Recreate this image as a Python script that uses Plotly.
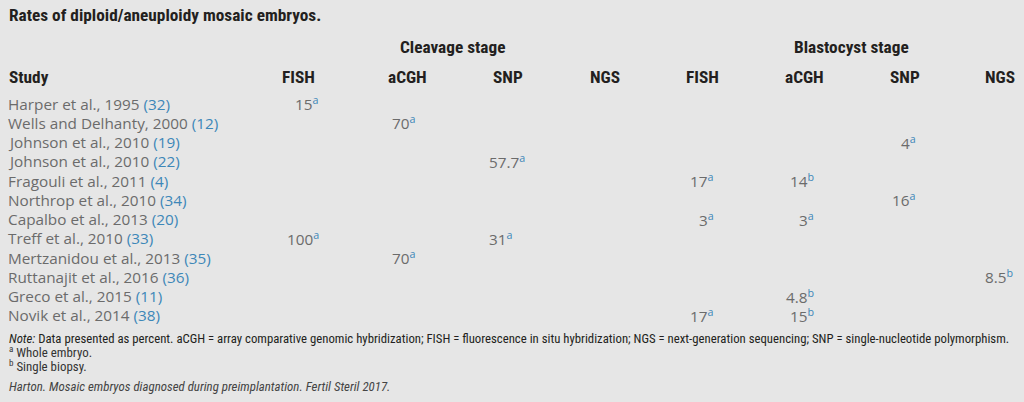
import plotly.graph_objects as go

# ---------------- data ----------------
title = "Rates of diploid/aneuploidy mosaic embryos."
stage_labels = ["Cleavage stage", "Blastocyst stage"]
column_labels = ["FISH", "aCGH", "SNP", "NGS", "FISH", "aCGH", "SNP", "NGS"]
studies = [
    "Harper et al., 1995", "Wells and Delhanty, 2000", "Johnson et al., 2010",
    "Johnson et al., 2010", "Fragouli et al., 2011", "Northrop et al., 2010",
    "Capalbo et al., 2013", "Treff et al., 2010", "Mertzanidou et al., 2013",
    "Ruttanajit et al., 2016", "Greco et al., 2015", "Novik et al., 2014",
]
refs = ["32", "12", "19", "22", "4", "34", "20", "33", "35", "36", "11", "38"]

# values (percent) and footnote markers, one list per column
cleavage_fish = ["15", "", "", "", "", "", "", "100", "", "", "", ""]
cleavage_fish_note = ["a", "", "", "", "", "", "", "a", "", "", "", ""]
cleavage_acgh = ["", "70", "", "", "", "", "", "", "70", "", "", ""]
cleavage_acgh_note = ["", "a", "", "", "", "", "", "", "a", "", "", ""]
cleavage_snp = ["", "", "", "57.7", "", "", "", "31", "", "", "", ""]
cleavage_snp_note = ["", "", "", "a", "", "", "", "a", "", "", "", ""]
cleavage_ngs = ["", "", "", "", "", "", "", "", "", "", "", ""]
cleavage_ngs_note = ["", "", "", "", "", "", "", "", "", "", "", ""]
blast_fish = ["", "", "", "", "17", "", "3", "", "", "", "", "17"]
blast_fish_note = ["", "", "", "", "a", "", "a", "", "", "", "", "a"]
blast_acgh = ["", "", "", "", "14", "", "3", "", "", "", "4.8", "15"]
blast_acgh_note = ["", "", "", "", "b", "", "a", "", "", "", "b", "b"]
blast_snp = ["", "", "4", "", "", "16", "", "", "", "", "", ""]
blast_snp_note = ["", "", "a", "", "", "a", "", "", "", "", "", ""]
blast_ngs = ["", "", "", "", "", "", "", "", "", "8.5", "", ""]
blast_ngs_note = ["", "", "", "", "", "", "", "", "", "b", "", ""]

note_text = ("<i>Note:</i> Data presented as percent. aCGH = array comparative genomic hybridization; "
             "FISH = fluorescence in situ hybridization; NGS = next-generation sequencing; "
             "SNP = single-nucleotide polymorphism.")
footnotes = [("a", "Whole embryo."), ("b", "Single biopsy.")]
citation = "Harton. Mosaic embryos diagnosed during preimplantation. Fertil Steril 2017."

# ---------------- style / layout ----------------
W, H = 1024, 402
BG = "#e6e6e6"
HEAD_FONT = "Liberation Sans Narrow, Roboto Condensed, Roboto, sans-serif"
BODY_FONT = "Open Sans, Noto Sans, sans-serif"
NOTE_FONT = "Liberation Sans Narrow, Roboto Condensed, Roboto, sans-serif"
HEAD_COLOR = "#231f20"
BODY_COLOR = "#6b6b6b"
LINK_COLOR = "#3d87b8"

col_header_x = [298, 407, 508, 605, 702, 804, 905, 1000]
col_value_x = [320, 417, 488, 620, 715, 815, 917, 1014]
col_value_anchor = ["right", "right", "left", "right", "right", "right", "right", "right"]
stage_x = [452, 851]
row0_y, row_step = 103.5, 19.25
BODY_SIZE = 15.3

columns = [
    (cleavage_fish, cleavage_fish_note), (cleavage_acgh, cleavage_acgh_note),
    (cleavage_snp, cleavage_snp_note), (cleavage_ngs, cleavage_ngs_note),
    (blast_fish, blast_fish_note), (blast_acgh, blast_acgh_note),
    (blast_snp, blast_snp_note), (blast_ngs, blast_ngs_note),
]

fig = go.Figure()
fig.add_trace(go.Scatter(x=[0, W], y=[0, H], mode="markers",
                         marker=dict(opacity=0), hoverinfo="skip", showlegend=False))

ann = []


def add(text, x, y, size, color, family, anchor="left"):
    ann.append(dict(text=text, x=x, y=y, xref="x", yref="y", showarrow=False,
                    xanchor=anchor, yanchor="middle", borderpad=0,
                    font=dict(size=size, color=color, family=family)))


add("<b>" + title + "</b>", 8, 15, 17.3, HEAD_COLOR, HEAD_FONT)
for lbl, sx in zip(stage_labels, stage_x):
    add("<b>" + lbl + "</b>", sx, 47, 17.3, HEAD_COLOR, HEAD_FONT, "center")
add("<b>Study</b>", 8, 77, 17.3, HEAD_COLOR, HEAD_FONT)
for lbl, cx in zip(column_labels, col_header_x):
    add("<b>" + lbl + "</b>", cx, 77, 17.3, HEAD_COLOR, HEAD_FONT, "center")

for i, (s, r) in enumerate(zip(studies, refs)):
    y = row0_y + i * row_step
    add(f"{s} <span style='color:{LINK_COLOR}'>({r})</span>", 7, y, BODY_SIZE, BODY_COLOR, BODY_FONT)
    for (vals, notes), vx, va in zip(columns, col_value_x, col_value_anchor):
        if vals[i]:
            add(f"{vals[i]}<sup><span style='color:{LINK_COLOR}'>{notes[i]}</span></sup>",
                vx, y, BODY_SIZE, BODY_COLOR, BODY_FONT, va)

add(note_text, 8, 338, 12.75, "#231f20", NOTE_FONT)
for k, (m, t) in enumerate(footnotes):
    add(f"<sup>{m}</sup> {t}", 8, 352 + k * 14, 12.9, "#333333", NOTE_FONT)
add("<i>" + citation + "</i>", 8, 386, 12.9, "#444444", NOTE_FONT)

fig.update_layout(
    width=W, height=H, margin=dict(l=0, r=0, t=0, b=0),
    paper_bgcolor=BG, plot_bgcolor=BG, annotations=ann, showlegend=False,
    xaxis=dict(range=[0, W], visible=False, fixedrange=True),
    yaxis=dict(range=[H, 0], visible=False, fixedrange=True),
)
fig.write_html("out.html", config={"displayModeBar": False},
               post_script="document.body.style.margin='0';document.body.style.overflow='hidden';")
